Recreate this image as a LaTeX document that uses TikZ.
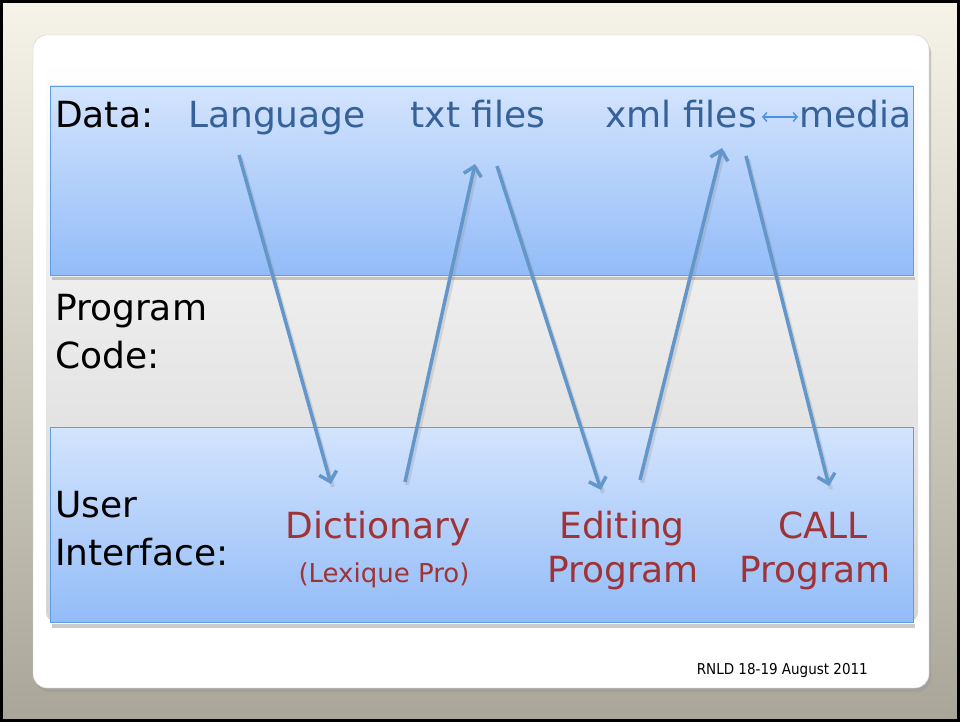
\documentclass[tikz,border=0pt]{standalone}
\usepackage{fontspec}
\setmainfont{DejaVu Sans}
\newfontfamily\condfont{DejaVu Sans Condensed}
\usetikzlibrary{arrows.meta}
\definecolor{bgtop}{HTML}{F6F3E9}
\definecolor{bgbot}{HTML}{A9A699}
\definecolor{boxtop}{HTML}{D3E4FD}
\definecolor{boxbot}{HTML}{93BCF8}
\definecolor{boxline}{HTML}{5C9EE6}
\definecolor{bluetxt}{HTML}{366299}
\definecolor{redtxt}{HTML}{9E3436}
\definecolor{arrowc}{HTML}{6397CB}
\definecolor{linkc}{HTML}{4A90E2}
\begin{document}
\begin{tikzpicture}[x=1pt,y=-1pt,
  big/.style={font=\fontsize{36}{40}\selectfont, inner sep=0pt, anchor=base},
  lbl/.style={big, text=black, anchor=base west},
  datatxt/.style={big, text=bluetxt},
  uitxt/.style={big, text=redtxt},
  flow/.style={arrowc, line width=3.5pt, -{Straight Barb[length=9pt,width=18pt,line width=3.5pt]}},
  flowshadow/.style={black!45, opacity=0.25, line width=4pt},
  linkarrow/.style={linkc, line width=1.4pt, {Straight Barb[length=4pt,width=9pt,line width=1.4pt]}-{Straight Barb[length=4pt,width=9pt,line width=1.4pt]}},
  panel/.style={top color=boxtop, bottom color=boxbot, draw=boxline, line width=0.8pt}
]
\useasboundingbox (0,0) rectangle (960,722);
% background
\shade[top color=bgtop, bottom color=bgbot] (0,0) rectangle (960,722);
\draw[black, line width=3pt] (1.5,1.5) rectangle (958.5,720.5);
% card
\fill[black!40, opacity=0.5, rounded corners=14pt] (35,39) rectangle (931,692);
\fill[white, draw=black!20, rounded corners=14pt] (33,35) rectangle (929,688);
% grey area
\shade[top color=white, bottom color=black!17, rounded corners=10pt] (46,60) rectangle (918,622);
% panels
\fill[black!40, opacity=0.5] (52,277) rectangle (915,280);
\fill[black!40, opacity=0.5] (52,624) rectangle (915,628);
\shade[panel] (50,86) rectangle (913,275);
\draw[boxline, line width=0.8pt] (50,86) rectangle (913,275);
\shade[panel] (50,427) rectangle (913,622);
\draw[boxline, line width=0.8pt] (50,427) rectangle (913,622);
% labels
\node[lbl] (data) at (55,128) {Data:};
\node[lbl] (prog) at (55,320) {Program};
\node[lbl] (code) at (55,368) {Code:};
\node[lbl] (user) at (55,517) {User};
\node[lbl] (iface) at (55,565) {Interface:};
% data items
\node[datatxt] (lang) at (277,128) {Language};
\node[datatxt] (txt) at (478,128) {txt files};
\node[datatxt, anchor=base east] (xml) at (757,128) {xml files};
\node[datatxt, anchor=base west] (media) at (799,128) {media};
\coordinate (linkL) at (762,117);
\coordinate (linkR) at (798,117);
\draw[linkarrow] (linkL) -- (linkR);
% UI items
\node[uitxt] (dict) at (378,538) {Dictionary};
\node[uitxt, font=\fontsize{26}{30}\selectfont] (lex) at (384,582) {(Lexique Pro)};
\node[uitxt] (edit) at (622,538) {Editing};
\node[uitxt] (editp) at (623,582) {Program};
\node[uitxt] (call) at (823,538) {CALL};
\node[uitxt] (callp) at (815,582) {Program};
% footer
\node[inner sep=0pt, anchor=base east, font=\condfont\fontsize{15}{17}\selectfont] (foot) at (868,674) {RNLD 18-19 August 2011};
% arrow end points
\coordinate (a1s) at (239,155); \coordinate (a1e) at (331,484);
\coordinate (a2s) at (405,482); \coordinate (a2e) at (475,164);
\coordinate (a3s) at (497,166); \coordinate (a3e) at (601,490);
\coordinate (a4s) at (640,480); \coordinate (a4e) at (722,148);
\coordinate (a5s) at (746,156); \coordinate (a5e) at (829,486);
\foreach \s/\e in {a1s/a1e,a2s/a2e,a3s/a3e,a4s/a4e,a5s/a5e}{
  \draw[flowshadow, transform canvas={shift={(2pt,-3pt)}}] (\s) -- (\e);
  \draw[flow] (\s) -- (\e);
}
\end{tikzpicture}
\end{document}
